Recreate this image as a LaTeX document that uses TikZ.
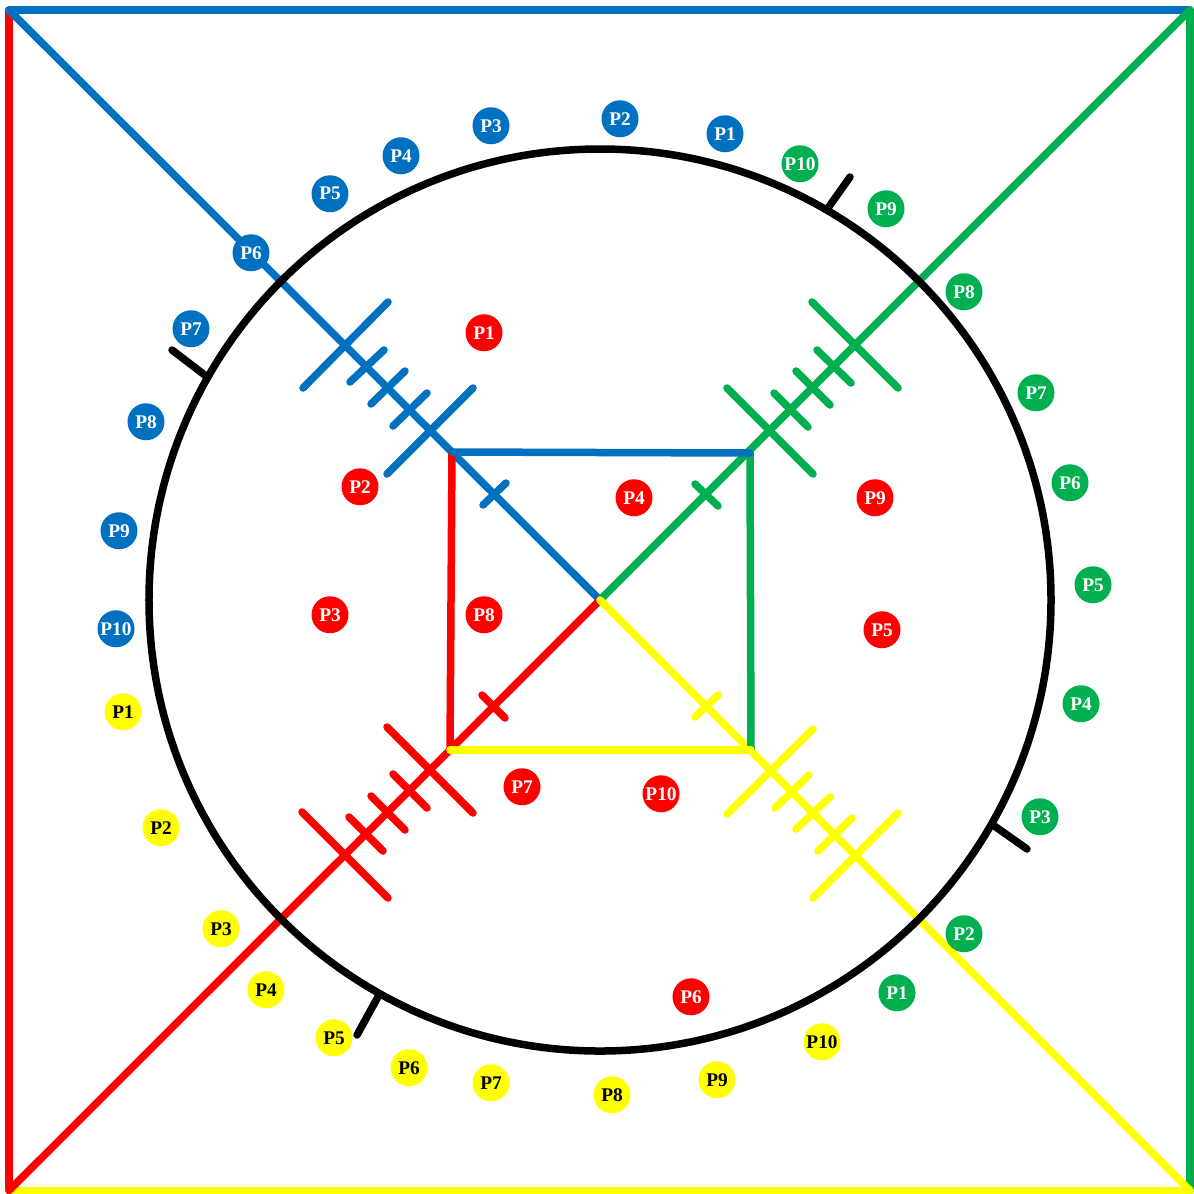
\documentclass[tikz,border=0pt]{standalone}
\usepackage{xcolor}
\usepackage{fontspec}
\setmainfont{Liberation Serif}
\definecolor{segBlue}{HTML}{0070C0}
\definecolor{segGreen}{HTML}{00B050}
\definecolor{segRed}{HTML}{FF0000}
\definecolor{segYellow}{HTML}{FFFF00}
\tikzset{
  wire/.style={line width=1.5mm, line cap=round},
  tick/.style={line width=1.5mm, line cap=round},
  ring/.style={draw=black, line width=1.5mm, circle, inner sep=0pt, minimum size=18.04cm},
  port/.style={circle, inner sep=0pt, minimum size=7.4mm, yshift=-0.15mm, font=\bfseries\fontsize{11pt}{11pt}\selectfont, text=white},
  pblue/.style={port, fill=segBlue},
  pgreen/.style={port, fill=segGreen},
  pred/.style={port, fill=segRed},
  pyellow/.style={port, fill=segYellow, text=black}
}
\begin{document}
\begin{tikzpicture}[x=0.2mm, y=-0.2mm]
  \useasboundingbox (0,0) rectangle (1194,1193);
  % corners
  \coordinate (tl) at (9,10);
  \coordinate (tr) at (1190,10);
  \coordinate (bl) at (9,1190.5);
  \coordinate (br) at (1190,1190.5);
  \coordinate (cen) at (600,600);
  \coordinate (ibl) at (450,750);
  \coordinate (itl) at (452,452);
  \coordinate (itr) at (750,453);
  \coordinate (ibr) at (751,750);
  % outer square and diagonals
  \draw[wire, segRed] (tl) -- (bl);
  \draw[wire, segBlue] (tl) -- (tr);
  \draw[wire, segGreen] (tr) -- (br);
  \draw[wire, segYellow] (bl) -- (br);
  \draw[wire, segBlue] (tl) -- (cen);
  \draw[wire, segGreen] (tr) -- (cen);
  \draw[wire, segRed] (bl) -- (cen);
  \draw[wire, segYellow] (br) -- (cen);
  % inner square
  \draw[wire, segRed] (itl) -- (ibl);
  \draw[wire, segGreen] (itr) -- (ibr);
  \draw[wire, segBlue] (itl) -- (itr);
  \draw[wire, segYellow] (ibl) -- (ibr);
  % ring
  \node[ring] (ring) at (600,600) {};
  % blue ticks
  \draw[tick, segBlue] (303,388) -- (388,302);
  \draw[tick, segBlue] (350,382) -- (384,350);
  \draw[tick, segBlue] (371,404) -- (405,371);
  \draw[tick, segBlue] (393,426) -- (427,393);
  \draw[tick, segBlue] (387,474) -- (473,388);
  \draw[tick, segBlue] (483,505) -- (506,483);
  % green ticks
  \draw[tick, segGreen] (812,302) -- (898,388);
  \draw[tick, segGreen] (817,350) -- (851,383);
  \draw[tick, segGreen] (796,371) -- (830,405);
  \draw[tick, segGreen] (774,393) -- (808,427);
  \draw[tick, segGreen] (727,388) -- (813,474);
  \draw[tick, segGreen] (695,484) -- (718,506);
  % red ticks
  \draw[tick, segRed] (302,812) -- (388,898);
  \draw[tick, segRed] (349,817) -- (383,851);
  \draw[tick, segRed] (371,796) -- (405,830);
  \draw[tick, segRed] (393,774) -- (427,808);
  \draw[tick, segRed] (387,727) -- (473,813);
  \draw[tick, segRed] (482,695) -- (505,718);
  % yellow ticks
  \draw[tick, segYellow] (813,898) -- (898,813);
  \draw[tick, segYellow] (818,851) -- (852,818);
  \draw[tick, segYellow] (796,829) -- (830,797);
  \draw[tick, segYellow] (775,808) -- (809,775);
  \draw[tick, segYellow] (727,814) -- (813,729);
  \draw[tick, segYellow] (695,717) -- (718,695);
  % black marks on ring
  \draw[tick, black] (828,208) -- (850,177);
  \draw[tick, black] (206,376) -- (172,350);
  \draw[tick, black] (993,825) -- (1027,849);
  \draw[tick, black] (379,995) -- (357,1035);
  % blue ports
  \node[pblue] (b1) at (725,133) {P1};
  \node[pblue] (b2) at (620,118) {P2};
  \node[pblue] (b3) at (491,125) {P3};
  \node[pblue] (b4) at (401,155) {P4};
  \node[pblue] (b5) at (330,193) {P5};
  \node[pblue] (b6) at (251,252) {P6};
  \node[pblue] (b7) at (191,328) {P7};
  \node[pblue] (b8) at (146,421) {P8};
  \node[pblue] (b9) at (119,530) {P9};
  \node[pblue] (b10) at (116,628) {P10};
  % green ports
  \node[pgreen] (g1) at (897,992) {P1};
  \node[pgreen] (g2) at (964,933) {P2};
  \node[pgreen] (g3) at (1040,816) {P3};
  \node[pgreen] (g4) at (1081,703) {P4};
  \node[pgreen] (g5) at (1093,584) {P5};
  \node[pgreen] (g6) at (1070,482) {P6};
  \node[pgreen] (g7) at (1036,392) {P7};
  \node[pgreen] (g8) at (964,291) {P8};
  \node[pgreen] (g9) at (886,208) {P9};
  \node[pgreen] (g10) at (800,163) {P10};
  % red ports
  \node[pred] (r1) at (484,332) {P1};
  \node[pred] (r2) at (360,486) {P2};
  \node[pred] (r3) at (330,614) {P3};
  \node[pred] (r4) at (634,497) {P4};
  \node[pred] (r5) at (882,629) {P5};
  \node[pred] (r6) at (691,996) {P6};
  \node[pred] (r7) at (522,786) {P7};
  \node[pred] (r8) at (484,614) {P8};
  \node[pred] (r9) at (875,497) {P9};
  \node[pred] (r10) at (661,793) {P10};
  % yellow ports
  \node[pyellow] (y1) at (123,711) {P1};
  \node[pyellow] (y2) at (161,827) {P2};
  \node[pyellow] (y3) at (221,928) {P3};
  \node[pyellow] (y4) at (266,989) {P4};
  \node[pyellow] (y5) at (334,1037) {P5};
  \node[pyellow] (y6) at (409,1067) {P6};
  \node[pyellow] (y7) at (491,1082) {P7};
  \node[pyellow] (y8) at (612,1094) {P8};
  \node[pyellow] (y9) at (717,1079) {P9};
  \node[pyellow] (y10) at (822,1041) {P10};
\end{tikzpicture}
\end{document}
